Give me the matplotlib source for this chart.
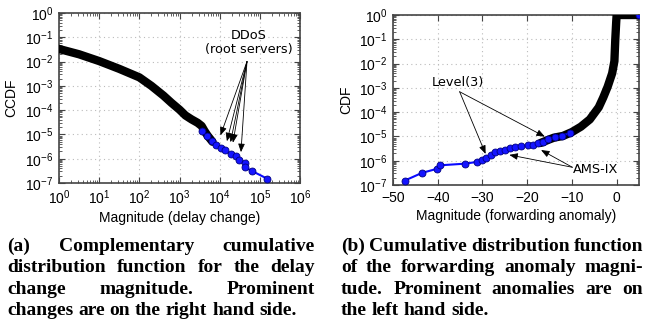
import numpy as np
import matplotlib
matplotlib.use('Agg')
import matplotlib.pyplot as plt
from matplotlib.ticker import LogLocator, NullFormatter, MultipleLocator

plt.rcParams['font.family'] = ['Liberation Sans', 'DejaVu Sans']
plt.rcParams['font.size'] = 10

# (a) CCDF of delay change magnitude, log10 values
delay_bulk_logx = [0.0, 0.5, 1.0, 1.5, 2.0, 2.3, 2.6, 2.8, 3.0, 3.15, 3.3, 3.45, 3.55, 3.62, 3.7, 3.82]
delay_bulk_logy = [-1.48, -1.7, -1.98, -2.3, -2.65, -3.0, -3.4, -3.7, -3.98, -4.22, -4.38, -4.52,
                   -4.65, -4.85, -5.05, -5.3]
delay_top_logx = [3.55, 3.68, 3.81, 3.92, 4.04, 4.14, 4.27, 4.40, 4.47, 4.64, 4.64, 4.81, 5.18]
delay_top_logy = [-4.85, -5.05, -5.28, -5.42, -5.55, -5.66, -5.80, -5.90, -6.05, -6.19, -6.36,
                  -6.51, -6.82]
ddos_tips_logx = [4.02, 4.18, 4.27, 4.33, 4.53]
ddos_tips_logy = [-5.04, -5.28, -5.32, -5.34, -5.73]

# (b) CDF of forwarding anomaly magnitude
fwd_bulk_x = [-17, -15, -14, -12, -10, -8, -6, -4, -3, -2, -1, -0.5, -0.3, -0.1, 0, 5]
fwd_bulk_logy = [-5.27, -5.12, -5.05, -4.98, -4.82, -4.6, -4.3, -3.8, -3.4, -2.95, -2.4, -1.9,
                 -1.0, -0.3, 0, 0]
fwd_top_x = [-47.4, -43.5, -40.1, -39.5, -33.8, -31.3, -30.2, -29.1, -28.0, -27.2, -26.1, -25.0,
             -23.9, -22.8, -21.3, -19.8, -18.7, -17.5, -16.4, -15.3, -13.8, -12.3, -10.4]
fwd_top_logy = [-6.82, -6.5, -6.33, -6.19, -6.12, -6.05, -5.96, -5.89, -5.75, -5.66, -5.62, -5.55,
                -5.48, -5.44, -5.41, -5.37, -5.34, -5.27, -5.21, -5.11, -5.03, -4.97, -4.86]
level3_tips_x = [-29.3, -16.05]
level3_tips_logy = [-5.72, -5.01]
amsix_tips_x = [-24.0, -16.9]
amsix_tips_logy = [-5.76, -5.56]

caption_a = ["(a) Complementary cumulative",
             "distribution function for the delay",
             "change magnitude. Prominent",
             "changes are on the right hand side."]
caption_b = ["(b) Cumulative distribution function",
             "of the forwarding anomaly magni-",
             "tude. Prominent anomalies are on",
             "the left hand side."]

W, H = 650, 320
fig = plt.figure(figsize=(6.5, 3.2), dpi=100)
ax1 = fig.add_axes([59 / W, 1 - 183 / H, 241 / W, 170 / H])
ax2 = fig.add_axes([393 / W, 1 - 185 / H, 246 / W, 170 / H])

p = lambda v: np.power(10.0, v)
spine_c = '#444444'
arrow = dict(arrowstyle='-|>,head_length=0.5,head_width=0.2', color='black', lw=0.6,
             shrinkA=0, shrinkB=0)
for ax in (ax1, ax2):
    ax.set_yscale('log')
    ax.set_ylim(1e-7, 1)
    ax.grid(True, which='major', color='#bbbbbb', linestyle=(0, (1, 3)), linewidth=0.8)
    ax.tick_params(which='both', direction='in', top=True, right=True, color=spine_c,
                   labelsize=10)
    ax.tick_params(axis='x', pad=4)
    ax.tick_params(axis='y', pad=4)
    ax.tick_params(which='major', length=4)
    ax.tick_params(which='minor', length=2)
    ax.yaxis.set_major_locator(LogLocator(base=10, numticks=10))
    ax.yaxis.set_minor_locator(LogLocator(base=10, subs=np.arange(2, 10), numticks=10))
    ax.yaxis.set_minor_formatter(NullFormatter())
    for s in ax.spines.values():
        s.set_color(spine_c)
        s.set_linewidth(1.2)

# left panel
ax1.set_xscale('log')
ax1.set_xlim(1, 1e6)
ax1.xaxis.set_major_locator(LogLocator(base=10, numticks=10))
ax1.xaxis.set_minor_locator(LogLocator(base=10, subs=np.arange(2, 10), numticks=10))
ax1.xaxis.set_minor_formatter(NullFormatter())
ax1.plot(p(np.array(delay_bulk_logx)), p(np.array(delay_bulk_logy)), color='black',
         linewidth=6, solid_capstyle='round', solid_joinstyle='round', zorder=3)
ax1.plot(p(np.array(delay_top_logx)), p(np.array(delay_top_logy)), color='#0a0aff',
         linewidth=1.5, marker='o', markersize=5, markerfacecolor='#1414ff',
         markeredgecolor='#000080', markeredgewidth=0.6, zorder=4)
ax1.set_xlabel('Magnitude (delay change)', fontsize=10, labelpad=3)
ax1.set_ylabel('CCDF', fontsize=10)
ax1.text(p(4.72), p(-1.22), 'DDoS\n(root servers)', ha='center', va='center',
         fontsize=9.3, family='DejaVu Sans', linespacing=1.15, zorder=6)
for tx, ty in zip(ddos_tips_logx, ddos_tips_logy):
    ax1.annotate('', xy=(p(tx), p(ty)), xytext=(p(4.68), p(-2.0)), arrowprops=arrow, zorder=6)

# right panel
ax2.set_xlim(-50, 5)
ax2.xaxis.set_major_locator(MultipleLocator(10))
ax2.plot(fwd_bulk_x, p(np.array(fwd_bulk_logy)), color='black', linewidth=6,
         solid_capstyle='round', solid_joinstyle='round', zorder=3)
ax2.plot(fwd_top_x, p(np.array(fwd_top_logy)), color='#0a0aff', linewidth=1.5, marker='o',
         markersize=5, markerfacecolor='#1414ff', markeredgecolor='#000080',
         markeredgewidth=0.6, zorder=4)
ax2.plot([5], [1], marker='o', markersize=5, color='#1414ff', markeredgecolor='#000080',
         markeredgewidth=0.6, zorder=4)
ax2.set_xlabel('Magnitude (forwarding anomaly)', fontsize=10, labelpad=3)
ax2.set_ylabel('CDF', fontsize=10)
ax2.text(-35.45, p(-2.79), 'Level(3)', ha='center', va='center', fontsize=9.3,
         family='DejaVu Sans', zorder=6)
for tx, ty in zip(level3_tips_x, level3_tips_logy):
    ax2.annotate('', xy=(tx, p(ty)), xytext=(-35.1, p(-3.16)), arrowprops=arrow, zorder=6)
ax2.text(-4.7, p(-6.38), 'AMS-IX', ha='center', va='center', fontsize=9.3,
         family='DejaVu Sans', zorder=6,
         bbox=dict(facecolor='white', edgecolor='none', pad=0.5))
for tx, ty in zip(amsix_tips_x, amsix_tips_logy):
    ax2.annotate('', xy=(tx, p(ty)), xytext=(-9.9, p(-6.27)), arrowprops=arrow, zorder=6)

ax1.yaxis.set_label_coords(-0.17, 0.5)
ax2.yaxis.set_label_coords(-0.16, 0.5)


# justified captions
renderer = fig.canvas.get_renderer()
cap_font = dict(family='Liberation Serif', weight='bold', fontsize=14)


def text_width(s):
    t = fig.text(0, 0, s, **cap_font)
    w = t.get_window_extent(renderer).width
    t.remove()
    return w


def justified(lines, x0, x1, baselines):
    sw = text_width('a a') - 2 * text_width('a')
    for i, (line, yb) in enumerate(zip(lines, baselines)):
        words = line.split(' ')
        texts = [fig.text(0, 1 - yb / H, w, va='baseline', ha='left', **cap_font) for w in words]
        widths = [t.get_window_extent(renderer).width for t in texts]
        if i == len(lines) - 1 or len(words) == 1:
            gap = sw
        else:
            gap = max((x1 - x0 - sum(widths)) / (len(words) - 1), sw * 0.5)
        x = x0
        for t, w in zip(texts, widths):
            t.set_x(x / W)
            x += w + gap


justified(caption_a, 7, 315, [251, 272.5, 294, 315])
justified(caption_b, 341, 643, [251, 272.5, 294, 315])

fig.savefig('out.png', dpi=100)
